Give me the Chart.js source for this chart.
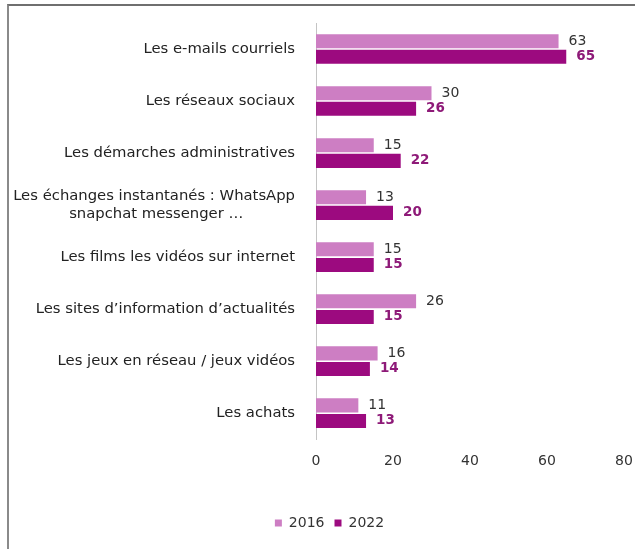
<!DOCTYPE html>
<html>
<head>
<meta charset="utf-8">
<script src="https://cdn.jsdelivr.net/npm/chart.js@4/dist/chart.umd.min.js"></script>
<style>
  html, body { margin: 0; padding: 0; background: #fff; }
  #wrap { position: relative; width: 635px; height: 549px; overflow: hidden; }
  #frame { position: absolute; left: 7px; top: 4px; right: -2px; bottom: -2px; border-left: 2px solid #8a8a8a; border-top: 2px solid #6f6f6f; pointer-events: none; }
  canvas { position: absolute; left: 0; top: 0; }
</style>
</head>
<body>
<div id="wrap">
  <canvas id="c" width="635" height="549"></canvas>
  <div id="frame"></div>
</div>
<script>
const categories = [
  "Les e-mails courriels",
  "Les réseaux sociaux",
  "Les démarches administratives",
  ["Les échanges instantanés : WhatsApp", "snapchat messenger …"],
  "Les films les vidéos sur internet",
  "Les sites d’information d’actualités",
  "Les jeux en réseau / jeux vidéos",
  "Les achats"
];
const seriesNames = ["2016", "2022"];
const values2016 = [63, 30, 15, 13, 15, 26, 16, 11];
const values2022 = [65, 26, 22, 20, 15, 15, 14, 13];
const xTicks = [0, 20, 40, 60, 80];

const FONT = "'DejaVu Sans', Verdana, sans-serif";
const CAT_SIZE = 14.8;
const LIGHT = "#cd7ec3";
const DARK = "#9c0a7f";

// center the lines of multi-line labels by padding with spaces (labels are right-aligned)
const mctx = document.createElement('canvas').getContext('2d');
mctx.font = CAT_SIZE + "px " + FONT;
function centerLines(lbl) {
  if (!Array.isArray(lbl)) return lbl;
  const ws = lbl.map(s => mctx.measureText(s).width);
  const maxW = Math.max(...ws);
  const sp = mctx.measureText(' ').width;
  return lbl.map((s, i) => s + ' '.repeat(Math.round((maxW - ws[i]) / 2 / sp)));
}

const valueLabels = {
  id: 'valueLabels',
  afterDatasetsDraw(chart) {
    const ctx = chart.ctx;
    ctx.save();
    ctx.textBaseline = 'middle';
    ctx.textAlign = 'left';
    chart.data.datasets.forEach((ds, di) => {
      const meta = chart.getDatasetMeta(di);
      meta.data.forEach((el, i) => {
        if (di === 0) { ctx.font = "14px " + FONT; ctx.fillStyle = "#333"; }
        else { ctx.font = "bold 13.5px " + FONT; ctx.fillStyle = "#8e1a78"; }
        ctx.fillText(String(ds.data[i]), el.x + 10, el.y);
      });
    });
    ctx.restore();
  }
};

const legendShift = {
  id: 'legendShift',
  afterLayout(chart) {
    if (chart.legend) { chart.legend.left += 24; }
  }
};

new Chart(document.getElementById('c'), {
  type: 'bar',
  data: {
    labels: categories,
    datasets: [
      { label: seriesNames[0], data: values2016, backgroundColor: LIGHT, barPercentage: 0.9, categoryPercentage: 0.6 },
      { label: seriesNames[1], data: values2022, backgroundColor: DARK, barPercentage: 0.9, categoryPercentage: 0.6 }
    ]
  },
  options: {
    indexAxis: 'y',
    responsive: false,
    animation: false,
    layout: { padding: { top: 23, right: 0, bottom: 9, left: 0 } },
    plugins: {
      legend: {
        position: 'bottom',
        labels: {
          font: { family: FONT, size: 14 },
          color: '#333',
          boxWidth: 7, boxHeight: 7,
          padding: 10
        }
      },
      tooltip: { enabled: false }
    },
    scales: {
      x: {
        min: 0, max: 80,
        afterBuildTicks(scale) { scale.ticks = xTicks.map(v => ({ value: v })); },
        grid: { display: false, drawTicks: false },
        border: { display: false },
        ticks: { font: { family: FONT, size: 14 }, color: '#333', padding: 14 },
        afterFit(scale) { scale.height += 22; scale.paddingRight = 11; scale.paddingLeft = 0; }
      },
      y: {
        grid: { display: false, drawTicks: false },
        border: { display: true, color: '#c4c4c4', width: 1 },
        ticks: {
          font: { family: FONT, size: CAT_SIZE },
          color: '#222',
          padding: 21,
          autoSkip: false,
          callback(v, i) { return centerLines(categories[i]); }
        },
        afterFit(scale) { scale.width = 316; scale.paddingTop = 0; scale.paddingBottom = 0; }
      }
    }
  },
  plugins: [valueLabels, legendShift]
});
</script>
</body>
</html>
